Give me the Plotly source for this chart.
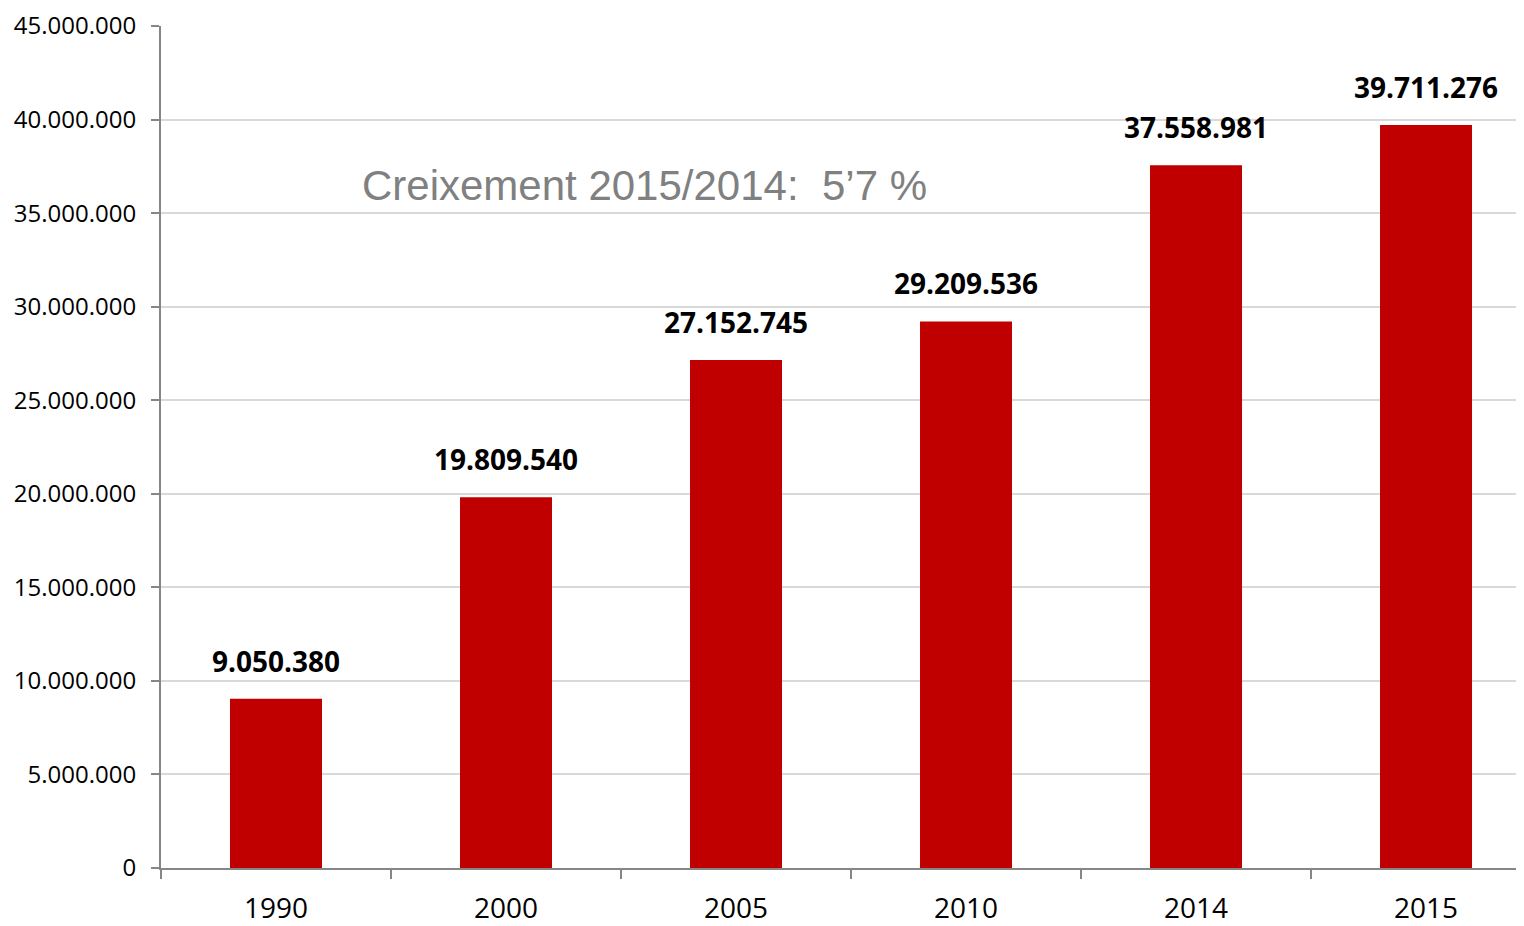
import plotly.graph_objects as go

years = ["1990", "2000", "2005", "2010", "2014", "2015"]
passengers = [9050380, 19809540, 27152745, 29209536, 37558981, 39711276]
y_ticks = [0, 5000000, 10000000, 15000000, 20000000, 25000000, 30000000, 35000000, 40000000, 45000000]
note = "Creixement 2015/2014:  5\u20197 %"


def dots(n):
    return f"{n:,}".replace(",", ".")


fig = go.Figure(
    data=[
        go.Bar(
            x=years,
            y=passengers,
            width=0.4,
            marker=dict(color="#C00000", line=dict(width=0)),
            hoverinfo="x+y",
        )
    ]
)

# value labels above the bars (category axis -> use index positions)
for i, v in enumerate(passengers):
    fig.add_annotation(
        x=i, y=v, xref="x", yref="y",
        text="<b>%s</b>" % dots(v),
        showarrow=False, yanchor="middle", yshift=38,
        font=dict(family="Open Sans", size=28, color="black"),
    )

fig.add_annotation(
    x=1.6, y=36500000, xref="x", yref="y",
    text=note, showarrow=False,
    font=dict(family="Liberation Sans", size=42, color="#808080"),
)

# page body has an 8px margin, so the figure is sized/offset to compensate
fig.update_layout(
    width=1516,
    height=918,
    margin={"l": 153, "r": 0, "t": 15, "b": 56},
    plot_bgcolor="white",
    paper_bgcolor="white",
    showlegend=False,
    font=dict(family="Open Sans", size=24, color="black"),
    xaxis=dict(
        type="category",
        range=[-0.5, 5.426],
        tickson="boundaries",
        ticks="outside",
        ticklen=9,
        tickcolor="#868686",
        tickwidth=2,
        showline=True,
        linecolor="#868686",
        linewidth=2,
        showgrid=False,
        tickfont=dict(size=28),
        ticklabelstandoff=14,
    ),
    yaxis=dict(
        range=[0, 45000000],
        tickvals=y_ticks,
        ticktext=[dots(t) for t in y_ticks],
        ticks="outside",
        ticklen=8,
        tickcolor="#868686",
        tickwidth=2,
        showline=True,
        linecolor="#868686",
        linewidth=2,
        gridcolor="#d9d9d9",
        gridwidth=1.5,
        zeroline=False,
        ticklabeloverflow="allow",
        ticklabelstandoff=10,
    ),
)

fig.write_html("out.html")
